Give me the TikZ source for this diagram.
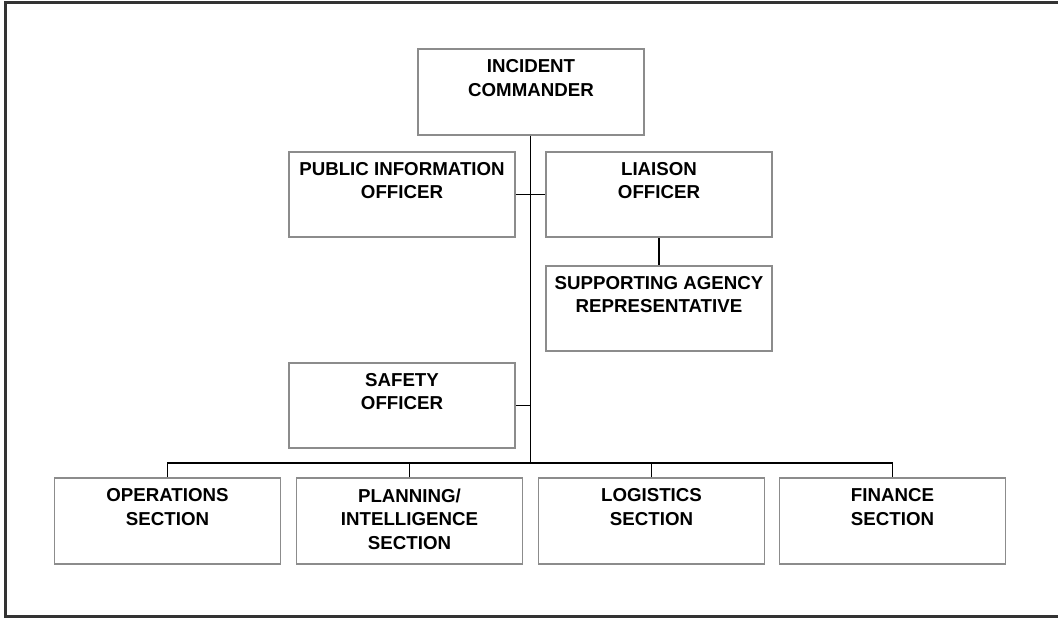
\documentclass[tikz,border=0pt]{standalone}
\usepackage{fontspec}
\setmainfont{Liberation Sans}
\definecolor{boxgray}{HTML}{8C8C8C}
\definecolor{framegray}{HTML}{333333}
\begin{document}
\begin{tikzpicture}[x=1pt,y=-1pt,
  box/.style={draw=boxgray, line width=1.8pt, minimum width=226pt, minimum height=85.5pt, inner sep=0pt},
  lbl/.style={anchor=north, inner sep=0pt, align=center, font=\fontsize{18.7}{23.5}\selectfont\bfseries},
  conn/.style={draw=black, line width=1.7pt},
  frame/.style={draw=framegray, line width=2.6pt}]
\useasboundingbox (0,0) rectangle (1058,618);
\draw[frame] (1060,2.7) -- (5.7,2.7) -- (5.7,616.3) -- (1060,616.3);

\node[box] (ic) at (531,92) {};
\node[box] (pio) at (402,194.5) {};
\node[box] (liaison) at (659,194.5) {};
\node[box] (sar) at (659,308.5) {};
\node[box] (safety) at (402,405.5) {};
\node[box] (ops) at (167.5,521) {};
\node[box] (plan) at (409.5,521) {};
\node[box] (log) at (651.5,521) {};
\node[box] (fin) at (892.5,521) {};

\node[lbl] (ict) at ([yshift=-11pt]ic.north) {INCIDENT\\COMMANDER};
\node[lbl] (piot) at ([yshift=-11pt]pio.north) {PUBLIC INFORMATION\\OFFICER};
\node[lbl] (liaisont) at ([yshift=-11pt]liaison.north) {LIAISON\\OFFICER};
\node[lbl] (sart) at ([yshift=-11pt]sar.north) {SUPPORTING AGENCY\\REPRESENTATIVE};
\node[lbl] (safetyt) at ([yshift=-11pt]safety.north) {SAFETY\\OFFICER};
\node[lbl] (opst) at ([yshift=-11pt]ops.north) {OPERATIONS\\SECTION};
\node[lbl] (plant) at ([yshift=-11pt]plan.north) {PLANNING/\\INTELLIGENCE\\SECTION};
\node[lbl] (logt) at ([yshift=-11pt]log.north) {LOGISTICS\\SECTION};
\node[lbl] (fint) at ([yshift=-11pt]fin.north) {FINANCE\\SECTION};

\coordinate (bus) at (530.5,463);
\draw[conn] ([xshift=-0.5pt]ic.south) -- (bus);
\draw[conn] (pio.east) -- (liaison.west);
\draw[conn] (safety.east) -- (safety.east -| bus);
\draw[conn] (liaison.south) -- (sar.north);
\draw[conn] (ops.north) -- (ops.north |- bus) -- (fin.north |- bus) -- (fin.north);
\draw[conn] (plan.north) -- (plan.north |- bus);
\draw[conn] (log.north) -- (log.north |- bus);
\end{tikzpicture}
\end{document}
